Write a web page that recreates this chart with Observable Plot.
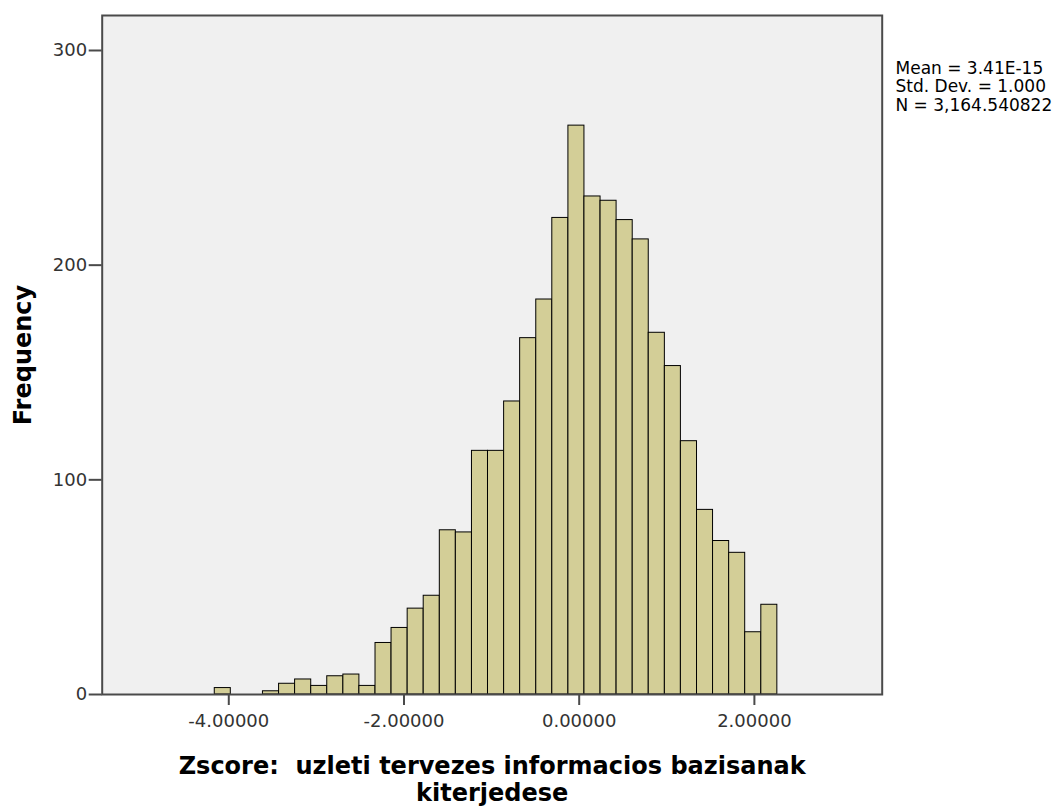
<!DOCTYPE html>
<html><head><meta charset="utf-8">
<script src="https://cdn.jsdelivr.net/npm/d3@7"></script>
<script src="https://cdn.jsdelivr.net/npm/@observablehq/plot@0.6"></script>
<style>html,body{margin:0;padding:0;background:#fff;overflow:hidden}</style>
</head><body><div id="chart"></div>
<script>
// Histogram bin edges (z-score units) and frequencies
const binEdges = [-4.160, -3.977, -3.793, -3.610, -3.426, -3.243, -3.059, -2.876, -2.692, -2.509,
  -2.325, -2.142, -1.958, -1.775, -1.591, -1.408, -1.224, -1.041, -0.857, -0.674,
  -0.490, -0.307, -0.123, 0.060, 0.244, 0.427, 0.611, 0.794, 0.978, 1.161,
  1.345, 1.528, 1.712, 1.895, 2.079, 2.262];
const frequencies = [3, 0, 0, 1.5, 5, 7, 4, 8.5, 9.3, 4,
  24, 31, 40, 46, 76.5, 75.5, 113.5, 113.5, 136.5, 166,
  184, 222, 265, 232, 230, 221, 212, 168.5, 153, 118,
  86, 71.5, 66, 29, 41.8];
const xTicks = [-4, -2, 0, 2];
const yTicks = [0, 100, 200, 300];
const statsLines = ["Mean = 3.41E-15", "Std. Dev. = 1.000", "N = 3,164.540822"];
const xTitle = "Zscore:  uzleti tervezes informacios bazisanak\nkiterjedese";
const yTitle = "Frequency";

const bins = frequencies.map((f, i) => ({x1: binEdges[i], x2: binEdges[i + 1], freq: f}))
  .filter(d => d.freq > 0);

const W = 1059, H = 808;
const mL = 101.7, mR = W - 881.7, mT = 15, mB = H - 694;

const chart = Plot.plot({
  width: W, height: H,
  marginLeft: mL, marginRight: mR, marginTop: mT, marginBottom: mB,
  style: {fontFamily: "DejaVu Sans", fontSize: "18px", color: "#333", background: "#fff", overflow: "visible"},
  x: {domain: [-5.445, 3.459]},
  y: {domain: [0, 316.3]},
  marks: [
    Plot.frame({fill: "#f0f0f0"}),
    Plot.rect(bins, {x1: "x1", x2: "x2", y1: 0, y2: "freq", fill: "#d3ce97", stroke: "#000", strokeWidth: 1}),
    Plot.frame({stroke: "#4a4a4a", strokeWidth: 2}),
    Plot.axisX({ticks: xTicks, tickFormat: d => d.toFixed(5), tickSize: 11, tickPadding: 9, label: null, stroke: "#4a4a4a", strokeWidth: 2}),
    Plot.axisY({ticks: yTicks, tickFormat: d => String(d), tickSize: 13, tickPadding: 2, label: null, stroke: "#4a4a4a", strokeWidth: 2}),
    Plot.text([xTitle], {frameAnchor: "bottom", textAnchor: "middle", lineAnchor: "top", dy: 60, lineHeight: 1.125, fontWeight: "bold", fontSize: 24, fill: "#000"}),
    Plot.text([yTitle], {frameAnchor: "left", textAnchor: "middle", rotate: -90, dx: -79.2, fontWeight: "bold", fontSize: 24, fill: "#000"}),
    Plot.text([statsLines.join("\n")], {frameAnchor: "top-right", textAnchor: "start", lineAnchor: "top", dx: 13.3, dy: 45, lineHeight: 1.1, fontSize: 17, fill: "#000"})
  ]
});
document.getElementById("chart").appendChild(chart);
</script>
</body></html>
